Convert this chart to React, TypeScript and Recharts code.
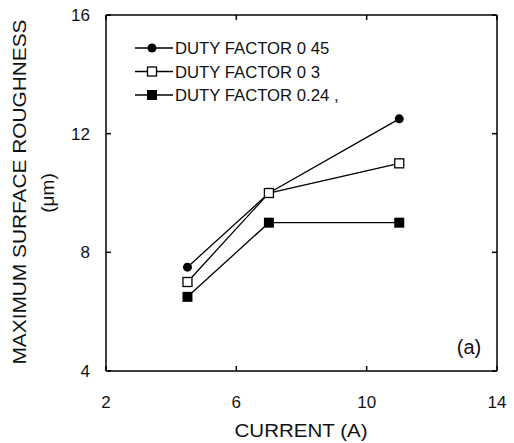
import { LineChart, Line, XAxis, YAxis } from 'recharts'

const current = [4.5, 7, 11]
const duty045 = [7.5, 10, 12.5]
const duty03 = [7, 10, 11]
const duty024 = [6.5, 9, 9]

const xTicks = [2, 6, 10, 14]
const yTicks = [4, 8, 12, 16]

const seriesNames = ['DUTY FACTOR 0 45', 'DUTY FACTOR 0 3', 'DUTY FACTOR 0.24 ,']

const data = current.map((c, i) => ({
  current: c,
  d045: duty045[i],
  d03: duty03[i],
  d024: duty024[i],
}))

const FONT = '"Liberation Sans", Arial, sans-serif'

function Marker({ kind, cx, cy }: { kind: string; cx: number; cy: number }) {
  if (kind === 'circle') return <circle cx={cx} cy={cy} r={4.5} fill='#000' />
  if (kind === 'open')
    return <rect x={cx - 4.5} y={cy - 4.5} width={9} height={9} fill='#fff' stroke='#000' strokeWidth={1.3} />
  return <rect x={cx - 5} y={cy - 5} width={10} height={10} fill='#000' />
}

const dotFor = (kind: string) => (p: any) => (
  <Marker key={`${kind}-${p.index}`} kind={kind} cx={p.cx} cy={p.cy} />
)

// legend drawn as an overlay so it doesn't eat plot space
function LegendBox() {
  const kinds = ['circle', 'open', 'square']
  return (
    <svg width={260} height={72} style={{ display: 'block' }}>
      {kinds.map((k, i) => {
        const y = 12 + i * 23.5
        return (
          <g key={k}>
            <line x1={5} x2={43} y1={y} y2={y} stroke='#000' strokeWidth={1.5} />
            <Marker kind={k} cx={22} cy={y} />
            <text x={45} y={y} dy='0.36em' fontSize={16.7} fontFamily={FONT} fill='#111'>
              {seriesNames[i]}
            </text>
          </g>
        )
      })}
    </svg>
  )
}

export default function App() {
  return (
    <div style={{ position: 'absolute', left: 0, top: 0, width: 514, height: 443, background: '#fff' }}>
      <LineChart
        width={514}
        height={443}
        data={data}
        margin={{ top: 14, right: 16, bottom: 32, left: 46 }}
      >
        <XAxis
          dataKey='current'
          type='number'
          domain={[2, 14]}
          ticks={xTicks}
          height={40}
          tickSize={-5}
          tickMargin={30}
          stroke='#000'
          strokeWidth={1.5}
          tick={{ fill: '#111', fontSize: 17, fontFamily: FONT }}
          label={{
            content: () => (
              <text
                x={301}
                y={430}
                dy='0.36em'
                textAnchor='middle'
                fontSize={19}
                textLength={133}
                lengthAdjust='spacingAndGlyphs'
                fontFamily={FONT}
                fill='#111'
              >
                CURRENT (A)
              </text>
            ),
          }}
        />
        <XAxis
          xAxisId='top'
          orientation='top'
          dataKey='current'
          type='number'
          domain={[2, 14]}
          ticks={xTicks}
          height={1}
          tickSize={-5}
          stroke='#000'
          strokeWidth={1.5}
          tickFormatter={() => ''}
        />
        <YAxis
          type='number'
          domain={[4, 16]}
          ticks={yTicks}
          width={60}
          tickSize={-5}
          tickMargin={21}
          stroke='#000'
          strokeWidth={1.5}
          tick={{ fill: '#111', fontSize: 17, fontFamily: FONT }}
          label={{
            content: () => (
              <g fontFamily={FONT} fill='#111' textAnchor='middle'>
                <text
                  x={19}
                  y={192}
                  fontSize={19}
                  dy='0.36em'
                  textLength={345}
                  lengthAdjust='spacingAndGlyphs'
                  transform='rotate(-90 19 192)'
                >
                  MAXIMUM SURFACE ROUGHNESS
                </text>
                <text x={47} y={193} fontSize={19} dy='0.36em' transform='rotate(-90 47 193)'>
                  (μm)
                </text>
              </g>
            ),
          }}
        />
        <YAxis
          yAxisId='right'
          orientation='right'
          type='number'
          domain={[4, 16]}
          ticks={yTicks}
          width={1}
          tickSize={-5}
          stroke='#000'
          strokeWidth={1.5}
          tickFormatter={() => ''}
        />
        {/* invisible series so the top / right frame axes get drawn */}
        <Line
          xAxisId='top'
          yAxisId='right'
          dataKey='d045'
          stroke='none'
          dot={false}
          activeDot={false}
          isAnimationActive={false}
        />
        <Line
          dataKey='d045'
          stroke='#000'
          strokeWidth={1.3}
          dot={dotFor('circle')}
          activeDot={false}
          isAnimationActive={false}
        />
        <Line
          dataKey='d03'
          stroke='#000'
          strokeWidth={1.3}
          dot={dotFor('open')}
          activeDot={false}
          isAnimationActive={false}
        />
        <Line
          dataKey='d024'
          stroke='#000'
          strokeWidth={1.3}
          dot={dotFor('square')}
          activeDot={false}
          isAnimationActive={false}
        />
      </LineChart>
      <div style={{ position: 'absolute', left: 130, top: 36 }}>
        <LegendBox />
      </div>
      <div
        style={{
          position: 'absolute',
          left: 469,
          top: 347,
          transform: 'translate(-50%, -50%)',
          fontFamily: FONT,
          fontSize: 20,
          color: '#111',
          lineHeight: 1,
        }}
      >
        (a)
      </div>
    </div>
  )
}
